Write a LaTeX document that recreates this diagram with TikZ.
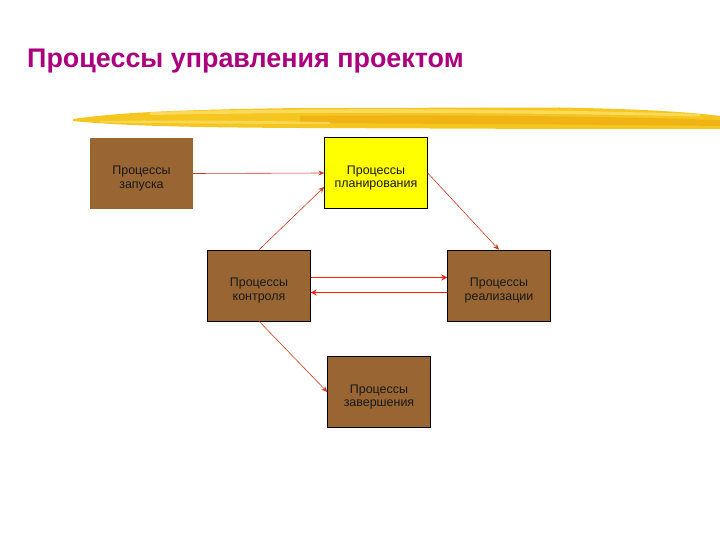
\documentclass[tikz,border=0pt]{standalone}
\usepackage{fontspec}
\setmainfont{Liberation Sans}
\definecolor{titlemag}{RGB}{170,0,125}
\definecolor{boxbrown}{RGB}{153,102,51}
\definecolor{boxyellow}{RGB}{255,255,0}
\definecolor{brushgold}{RGB}{245,198,32}
\definecolor{brushlight}{RGB}{250,224,105}
\definecolor{brushdark}{RGB}{238,176,18}
\definecolor{arrowred}{RGB}{205,60,30}
\definecolor{linkred}{RGB}{250,30,10}
\tikzset{
    procbox/.style={draw=black, fill=boxbrown, minimum width=103bp, minimum height=71bp,
        inner sep=0pt, align=center, font=\fontsize{12.5}{13.5}\selectfont, text=black!90,
        text height=32pt},
    flow/.style={draw=arrowred, line width=0.6pt, -{Stealth[length=6pt,width=5pt]}},
    link/.style={draw=linkred, line width=1.6pt, -{Stealth[length=6pt,width=6pt]}},
}
\usetikzlibrary{arrows.meta}
\begin{document}
\begin{tikzpicture}[x=1bp,y=-1bp]
    \useasboundingbox (0,0) rectangle (720,540);
    % title
    \node[anchor=base west, inner sep=0pt, text=titlemag, font=\fontsize{27}{30}\selectfont\bfseries] (title) at (27,68) {Процессы управления проектом};
    % brush stroke under the title
    \fill[brushgold] (73,119) .. controls (110,114) and (150,110) .. (300,108) -- (560,107.5)
        .. controls (640,109) and (690,112) .. (720,116) -- (720,129)
        -- (560,129) -- (300,128) .. controls (200,127.5) and (120,126) .. (73,121) -- cycle;
    \fill[brushlight, opacity=0.8] (150,112) .. controls (300,108) and (500,108) .. (700,114) -- (700,116.5)
        .. controls (500,112) and (300,112) .. (150,115) -- cycle;
    \fill[brushdark, opacity=0.8] (300,116) .. controls (420,115) and (560,115) .. (720,120) -- (720,126)
        .. controls (560,124) and (420,124) .. (300,123) -- cycle;
    \fill[brushlight, opacity=0.7] (100,121) .. controls (200,120) and (260,121) .. (330,122) -- (330,124)
        .. controls (260,124) and (200,123.5) .. (100,122.5) -- cycle;
    % boxes
    \node[procbox, draw=none] (zap) at (141.5,173.5) {Процессы\\запуска};
    \node[procbox, fill=boxyellow] (plan) at (376,173) {Процессы\\планирования};
    \node[procbox] (ctrl) at (259,285.5) {Процессы\\контроля};
    \node[procbox] (real) at (499,285.5) {Процессы\\реализации};
    \node[procbox] (fin) at (379,392) {Процессы\\завершения};
    % arrows
    \draw[flow] (zap.east) -- (plan.west);
    \draw[flow] (ctrl.north) -- (plan.195);
    \draw[flow] (plan.east) -- (real.north);
    \draw[link] ([yshift=8bp]ctrl.east) -- ([yshift=8bp]real.west);
    \draw[link] ([yshift=-7bp]real.west) -- ([yshift=-7bp]ctrl.east);
    \draw[flow] (ctrl.south) -- (fin.west);
\end{tikzpicture}
\end{document}
